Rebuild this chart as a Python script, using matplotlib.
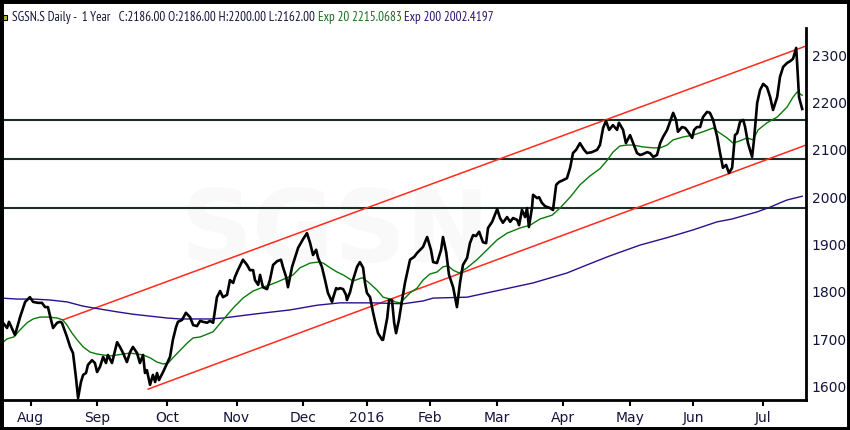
import matplotlib
matplotlib.use("Agg")
import matplotlib.pyplot as plt
from matplotlib.patches import Rectangle
from matplotlib import font_manager

# ---------------- data (x = trading-day index from left edge) ----------------
price_t = [0, 0.3, 1.6, 2.2, 4.1, 5.7, 7.3, 8.8, 9.8, 11.4, 12.6, 13.6, 14.5, 15.1, 16.1, 17.4, 18.3, 18.9,
           20.5, 21.5, 22.4, 23.3, 24.0, 24.9, 25.6, 26.5, 27.1, 28.4, 29.3, 30.0, 30.9, 31.9, 32.8, 33.4,
           34.7, 36.3, 37.2, 38.2, 39.4, 40.4, 41.3, 42.6, 43.5, 44.5, 45.1, 45.7, 46.7, 47.6, 48.3, 48.9,
           49.5, 50.8, 52.1, 53.0, 53.9, 54.9, 55.5, 56.8, 58.0, 59.3, 60.3, 61.5, 62.5, 63.4, 64.7, 65.6,
           66.6, 67.8, 68.8, 69.7, 71.0, 71.9, 72.9, 73.5, 74.4, 76.0, 77.3, 78.2, 79.2, 79.8, 80.8, 81.4,
           82.3, 83.6, 84.5, 85.5, 86.8, 88.0, 88.6, 89.6, 90.2, 91.5, 92.4, 93.4, 95.0, 96.2, 97.2, 98.1,
           99.1, 99.7, 100.9, 101.9, 102.8, 104.1, 104.4, 105.4, 106.0, 106.6, 107.6, 108.5, 108.8, 109.8,
           110.7, 112.0, 112.9, 113.9, 114.5, 115.1, 116.1, 117.0, 117.7, 118.6, 119.9, 120.2, 121.5, 122.1,
           123.0, 123.7, 124.3, 125.2, 126.2, 127.1, 128.7, 130.0, 130.9, 131.9, 132.8, 134.1, 135.3, 136.0,
           137.2, 138.5, 139.1, 140.1, 141.0, 142.3, 143.5, 144.5, 145.4, 146.7, 147.6, 148.6, 149.5, 150.5,
           151.7, 152.7, 153.3, 154.6, 156.2, 157.1, 158.0, 159.3, 160.3, 161.2, 162.5, 163.1, 164.0, 165.0,
           165.6, 166.2, 167.2, 167.5, 168.8, 169.4, 170.3, 171.3, 172.9, 173.8, 174.8, 175.7, 177.0, 178.2,
           179.2, 180.1, 181.1, 182.3, 183.6, 184.5, 186.1, 187.7, 188.6, 189.6, 190.5, 191.5, 192.7, 194.0,
           194.6, 195.9, 196.8, 198.1, 199.1, 200.3, 201.3, 202.2, 203.5, 204.4, 205.4, 206.6, 207.6, 208.5,
           209.8, 210.7, 211.7, 212.6, 213.2, 214.5, 215.5, 216.4, 217.7, 218.3, 219.2, 220.2, 221.1, 222.4,
           223.3, 224.3, 225.6, 226.5, 227.4, 228.4, 229.3, 230.3, 231.2, 231.9, 232.8, 233.8, 234.4, 235.3,
           236.6, 237.2, 238.2, 239.1, 240.1, 241.3, 242.3, 243.2, 244.5, 245.4, 246.4, 247.6, 248.6, 249.5,
           250.5, 250.8, 251.4, 252.4]
price_v = [1726, 1735, 1724, 1737, 1709, 1747, 1779, 1789, 1779, 1777, 1777, 1768, 1768, 1751, 1724, 1735, 1737, 1735,
           1705, 1684, 1671, 1621, 1576, 1610, 1625, 1629, 1646, 1656, 1650, 1631, 1642, 1663, 1650, 1667,
           1650, 1694, 1684, 1671, 1652, 1673, 1684, 1671, 1650, 1667, 1629, 1635, 1604, 1625, 1610, 1629,
           1614, 1631, 1650, 1663, 1699, 1726, 1737, 1741, 1756, 1747, 1730, 1728, 1739, 1737, 1735, 1739,
           1735, 1789, 1802, 1789, 1794, 1825, 1819, 1832, 1846, 1868, 1857, 1846, 1846, 1825, 1815, 1836,
           1810, 1806, 1825, 1857, 1865, 1868, 1853, 1832, 1810, 1853, 1872, 1893, 1912, 1924, 1903, 1878,
           1889, 1872, 1853, 1825, 1798, 1779, 1787, 1808, 1806, 1808, 1806, 1794, 1783, 1800,
           1825, 1853, 1863, 1851, 1819, 1798, 1789, 1758, 1737, 1713, 1699, 1699, 1745, 1783,
           1783, 1735, 1713, 1741, 1783, 1819, 1868, 1874, 1882, 1889, 1895, 1916, 1889, 1863,
           1861, 1889, 1916, 1884, 1836, 1810, 1768, 1821, 1857, 1872, 1903, 1920, 1918, 1927,
           1905, 1903, 1935, 1948, 1975, 1956, 1946, 1958, 1948, 1956, 1952, 1941, 1973, 1958,
           1977, 1937, 1979, 2005, 1998, 2000, 1988, 1981, 1977, 1973, 2026, 2032, 2036, 2040,
           2062, 2093, 2100, 2114, 2100, 2093, 2095, 2100, 2110, 2146, 2161, 2142, 2152, 2142,
           2157, 2142, 2114, 2131, 2114, 2093, 2089, 2091, 2095, 2093, 2085, 2089, 2114, 2127,
           2142, 2159, 2178, 2163, 2138, 2148, 2146, 2138, 2125, 2142, 2148, 2148, 2169, 2180,
           2178, 2163, 2127, 2093, 2062, 2068, 2051, 2062, 2131, 2135, 2159, 2163, 2148, 2114,
           2085, 2121, 2199, 2226, 2239, 2232, 2211, 2184, 2211, 2254, 2275, 2283, 2287, 2292,
           2315, 2283, 2211, 2186]

ema20_t = [0, 1.6, 3.7, 5.7, 7.9, 9.8, 12, 14.5, 17.4, 19.2, 20.5, 22.1, 23.7, 25.6, 27.8, 30.0, 31.9, 34.1,
           36.3, 38.2, 40.4, 42.6, 44.5, 46.7, 48.9, 50.8, 52.4, 53.9, 56.2, 58.4, 60.3, 62.5, 66.6, 69.7,
           72.9, 76.0, 79.2, 82.3, 84.5, 86.8, 89.9, 91.8, 94.0, 97.2, 99.7, 101.3, 103.5, 105.7, 107.6,
           110.7, 113.6, 115.5, 118.3, 120.2, 122.4, 124.0, 125.6, 126.5, 128.7, 130.9, 132.8, 135.0, 137.2,
           139.1, 140.7, 142.3, 144.2, 146.7, 149.8, 153.0, 156.2, 159.3, 163.4, 166.6, 169.7, 173.5, 176.0,
           179.2, 182.3, 185.5, 188.6, 190.9, 192.7, 194.9, 197.2, 199.1, 202.2, 205.4, 207.6, 209.8, 211.7,
           214.8, 218.0, 221.1, 224.3, 226.5, 228.7, 230.6, 232.8, 235.0, 236.9, 238.5, 241.3, 244.5, 247.6,
           249.5, 250.8, 252.4]
ema20_v = [1692, 1701, 1705, 1720, 1735, 1743, 1747, 1747, 1745, 1741, 1730, 1713, 1699, 1684, 1673, 1669, 1667, 1665,
           1667, 1669, 1671, 1669, 1667, 1661, 1652, 1648, 1650, 1661, 1677, 1692, 1703, 1705, 1716, 1741,
           1766, 1787, 1802, 1810, 1815, 1821, 1830, 1836, 1851, 1861, 1863, 1861, 1851, 1842, 1836,
           1823, 1830, 1821, 1804, 1789, 1785, 1779, 1777, 1783, 1798, 1808, 1825, 1838, 1842,
           1853, 1855, 1846, 1840, 1851, 1868, 1889, 1910, 1924, 1935, 1941, 1954, 1962, 1977,
           2000, 2026, 2045, 2060, 2078, 2095, 2108, 2110, 2110, 2106, 2104, 2104, 2110, 2121,
           2127, 2131, 2138, 2146, 2135, 2125, 2114, 2119, 2125, 2121, 2142, 2157, 2169, 2190,
           2211, 2222, 2215]

ema200_t = [0, 4.7, 9.8, 15.1, 20.5, 25.6, 30.9, 36.3, 41.3, 46.7, 52.1, 56.2, 62.5, 65.6, 69.7, 80.4, 90.8,
            99.4, 106.6, 117.0, 126.5, 132.8, 136.0, 146.7, 157.1, 167.5, 178.2, 184.5, 190.9, 195.0, 201.3,
            210.0, 218.0, 225.6, 230.3, 238.2, 242.3, 245.4, 247.6, 252.4]
ema200_v = [1787, 1785, 1785, 1783, 1779, 1770, 1764, 1758, 1753, 1749, 1745, 1743, 1743, 1743, 1745, 1754, 1762,
            1772, 1777, 1777, 1775, 1781, 1787, 1789, 1804, 1819, 1840, 1857, 1874, 1884, 1899,
            1915, 1931, 1948, 1954, 1969, 1979, 1988, 1994, 2002]

hline_levels = [2162, 2080, 1977]
upper_channel_t = [19.2, 253.6]
upper_channel_v = [1741, 2319]
lower_channel_t = [46.1, 253.6]
lower_channel_v = [1595, 2110]

month_ticks = [9, 30, 52, 74, 95, 115, 135, 156, 177, 198, 218, 240]
month_labels = ["Aug", "Sep", "Oct", "Nov", "Dec", "2016", "Feb", "Mar", "Apr", "May", "Jun", "Jul"]
y_ticks = [1600, 1700, 1800, 1900, 2000, 2100, 2200, 2300]

title_parts = ["SGSN.S Daily -  1 Year   C:2186.00 O:2186.00 H:2200.00 L:2162.00 ",
               "Exp 20 2215.0683 ", "Exp 200 2002.4197"]
title_colors = ["#14143c", "#1a6e1a", "#2b1470"]

# ---------------- fonts ----------------
installed = {f.name for f in font_manager.fontManager.ttflist}
title_family = "Liberation Sans"
for cand in ["PT Sans Narrow", "Roboto Condensed", "Open Sans Condensed", "Liberation Sans Narrow",
             "Archivo Narrow", "Fira Sans Condensed", "Ubuntu Condensed", "Encode Sans Condensed"]:
    if cand in installed:
        title_family = cand
        break

# ---------------- figure ----------------
W, H = 850, 430
fig = plt.figure(figsize=(8.5, 4.3), dpi=100)
fig.patch.set_facecolor("white")
ax = fig.add_axes([2 / W, 1 - 400 / H, (806 - 2) / W, (400 - 28) / H])
ax.set_facecolor("white")

ax.set_xlim(0, 253.6)
ax.set_ylim(1572, 2357)

# watermark
ax.text(0.415, 0.445, "SGSN", transform=ax.transAxes, fontsize=72, fontweight="bold",
        color="#f9f9f9", ha="center", va="center", zorder=0)

for lv in hline_levels:
    ax.axhline(lv, color="#1d2e28", lw=1.5, zorder=1)

ax.plot(upper_channel_t, upper_channel_v, color="#ff2a1a", lw=1.1, zorder=2)
ax.plot(lower_channel_t, lower_channel_v, color="#ff2a1a", lw=1.1, zorder=2)
ax.plot(ema200_t, ema200_v, color="#2b0f8c", lw=1.0, zorder=3)
ax.plot(ema20_t, ema20_v, color="#0a7a0a", lw=1.0, zorder=3)
ax.plot(price_t, price_v, color="black", lw=1.9, zorder=4, solid_joinstyle="round")

for s in ["top", "left"]:
    ax.spines[s].set_visible(False)
for s in ["bottom", "right"]:
    ax.spines[s].set_linewidth(2.0)
    ax.spines[s].set_color("black")

ax.yaxis.tick_right()
ax.set_yticks(y_ticks)
ax.set_yticklabels([str(v) for v in y_ticks])
ax.tick_params(axis="y", length=0, pad=4, labelsize=10, labelcolor="#14143c")
ax.set_xticks(month_ticks)
ax.set_xticklabels(month_labels)
ax.tick_params(axis="x", direction="out", length=4, width=1.5, pad=4, labelsize=10,
               labelcolor="#14143c", color="black")

# title pieces placed side by side, scaled to the reference width
renderer = fig.canvas.get_renderer()
target_width = 480.0
fs = 10.0
probe = fig.text(0, 0, "".join(title_parts), fontsize=fs, family=title_family)
w = probe.get_window_extent(renderer=renderer).width
probe.remove()
fs = min(10.5, fs * target_width / w)
x_px = 12
for txt, col in zip(title_parts, title_colors):
    t = fig.text(x_px / W, 1 - 17 / H, txt, color=col, fontsize=fs, family=title_family,
                 va="center", ha="left")
    bb = t.get_window_extent(renderer=renderer)
    x_px = bb.x1

# small icon
fig.patches.append(Rectangle((3 / W, 1 - 20 / H), 4 / W, 5 / H, transform=fig.transFigure,
                             facecolor="#b8b830", edgecolor="black", lw=0.8))
# figure border
fig.patches.append(Rectangle((0, 0), 1, 1, transform=fig.transFigure, fill=False,
                             edgecolor="black", lw=5))

fig.savefig("out.png", dpi=100, facecolor="white")
